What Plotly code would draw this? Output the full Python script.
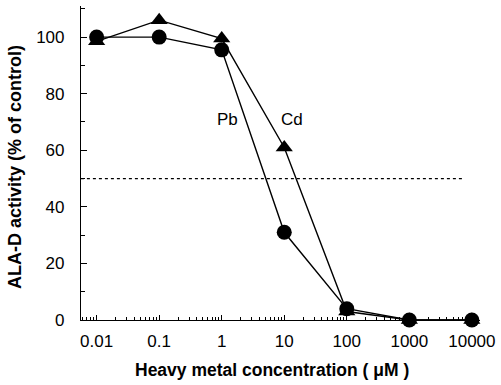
import plotly.graph_objects as go
import numpy as np

conc = [0.01, 0.1, 1, 10, 100, 1000, 10000]
pb = [100, 100, 95.5, 31, 4, 0, 0]
cd = [98.5, 106, 99.5, 61, 3, 0, 0]
tick_vals = [0.01, 0.1, 1, 10, 100, 1000, 10000]
tick_text = ["0.01", "0.1", "1", "10", "100", "1000", "10000"]
ref_level = 50
ref_x = [0.0056, 7000]

FONT = "Liberation Sans, Arial, Helvetica"

fig = go.Figure()
fig.add_trace(go.Scatter(x=ref_x, y=[ref_level, ref_level], mode="lines",
                         line=dict(color="black", width=1.2, dash="dot"),
                         showlegend=False, cliponaxis=False))
fig.add_trace(go.Scatter(x=conc, y=cd, mode="lines+markers", name="Cd",
                         line=dict(color="black", width=1.4),
                         marker=dict(symbol="triangle-up", size=15, color="black"),
                         showlegend=False, cliponaxis=False))
fig.add_trace(go.Scatter(x=conc, y=pb, mode="lines+markers", name="Pb",
                         line=dict(color="black", width=1.4),
                         marker=dict(symbol="circle", size=15, color="black"),
                         showlegend=False, cliponaxis=False))

fig.add_annotation(x=np.log10(1.25), y=71, text="Pb", showarrow=False,
                   font=dict(family=FONT, size=17, color="black"))
fig.add_annotation(x=np.log10(13.5), y=71, text="Cd", showarrow=False,
                   font=dict(family=FONT, size=17, color="black"))

fig.add_annotation(xref="paper", yref="paper", x=0.478, y=-0.158, yanchor="middle",
                   text="<b>Heavy metal concentration ( μM )</b>", showarrow=False,
                   font=dict(family=FONT, size=17.5, color="black"))
fig.add_annotation(xref="paper", yref="paper", x=-0.164, y=0.486, textangle=-90,
                   xanchor="center", yanchor="middle",
                   text="<b>ALA-D activity (% of control)</b>", showarrow=False,
                   font=dict(family=FONT, size=18, color="black"))

fig.update_layout(
    width=501, height=385,
    margin=dict(l=81, r=18, t=6, b=65),
    paper_bgcolor="white", plot_bgcolor="white",
    font=dict(family=FONT, size=17, color="black"),
    xaxis=dict(type="log", range=[-2.25, 4.13], tickvals=tick_vals, ticktext=tick_text,
               showgrid=False, zeroline=False, showline=True, linecolor="black", linewidth=1.2,
               ticks="inside", ticklen=5, tickcolor="black", ticklabelstandoff=5,
               minor=dict(ticks="inside", ticklen=3, dtick="D1", tickcolor="black", showgrid=False)),
    yaxis=dict(range=[0, 111], tickvals=[0, 20, 40, 60, 80, 100],
               showgrid=False, zeroline=False, showline=True, linecolor="black", linewidth=1.2,
               ticks="inside", ticklen=6, tickcolor="black", ticklabelstandoff=12,
               minor=dict(ticks="inside", ticklen=4, dtick=10, tickcolor="black", showgrid=False)),
)

fig.write_html("out.html")
